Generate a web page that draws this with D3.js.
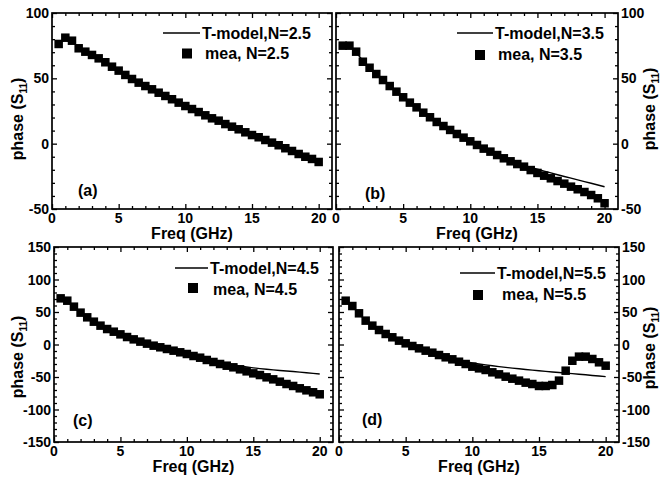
<!DOCTYPE html>
<html>
<head>
<meta charset="utf-8">
<script src="https://cdn.jsdelivr.net/npm/d3@7"></script>
<style>
html,body{margin:0;padding:0;background:#fff;}
svg{display:block;}
text{font-family:"Liberation Sans",Arial,Helvetica,sans-serif;font-weight:bold;fill:#000;}
</style>
</head>
<body>
<svg id="chart" width="660" height="480"></svg>
<script>
const freq = [0.5,1,1.5,2,2.5,3,3.5,4,4.5,5,5.5,6,6.5,7,7.5,8,8.5,9,9.5,10,
  10.5,11,11.5,12,12.5,13,13.5,14,14.5,15,15.5,16,16.5,17,17.5,18,18.5,19,19.5,20];
const xTicks = [0,5,10,15,20];
const yTicksAB = [-50,0,50,100];
const yTicksCD = [-150,-100,-50,0,50,100,150];

const meaA = [76.3,81.1,78.8,73,70.4,67.9,65.3,62.3,58.9,55.9,52.6,49.5,46.7,44.1,41.6,39,36.5,34,31.4,28.8,
  26.5,24.2,21.7,19.4,17.6,15,13,11,8.7,6.6,4.9,2.8,0.8,-1.2,-3.5,-5.6,-7.9,-10,-11.7,-14];
const modelA = [77,79.5,77.5,74.5,71,68,65,62,59,56,53,50,47,44.3,41.7,39.1,36.6,34.1,31.6,29.1,
  26.7,24.3,22,19.8,17.6,15.4,13.3,11.2,9.1,7,5,3,1,-1,-3.1,-5.2,-7.3,-9.4,-11.5,-13.5];

const meaB = [75,75,70.4,62.7,58.1,53.3,48.7,44.1,39.8,35.5,31.4,27.8,23.7,20.2,16.6,13.5,10.5,7.4,4.6,1.8,
  -1,-3.8,-6.1,-8.7,-11.2,-13.5,-15.6,-17.6,-20.2,-22.4,-24.5,-26.5,-28.6,-30.6,-32.9,-34.9,-37,-39.3,-41.8,-45.6];
const modelB = [75,74.5,70,63.5,58.5,53.6,48.9,44.3,40,35.8,31.8,28,24.2,20.6,17.1,13.8,10.7,7.7,4.8,2,
  -0.8,-3.5,-6.1,-8.6,-11.1,-13.4,-15,-16.6,-18.1,-19.6,-21,-22.4,-23.8,-25.1,-26.4,-27.7,-29,-30.3,-31.6,-33];

const meaC = [71,67.4,58.2,49,41.8,35.1,29,23.8,19.7,15.6,11.5,7.9,4.4,1.3,-1.8,-4.3,-6.9,-9.5,-12,-14.6,
  -17.7,-20.3,-23.8,-26.9,-30,-32.6,-35.1,-38.2,-41.3,-44.4,-47,-50.5,-53.6,-57.2,-60.8,-63.8,-67.4,-70.5,-73.5,-76.6];
const modelC = [71.5,66.5,58.5,49.5,42,35.3,29.2,24,19.6,15.5,11.6,8,4.6,1.4,-1.6,-4.3,-6.9,-9.4,-11.9,-14.4,
  -16.9,-19.8,-22.4,-24.9,-27.2,-29.4,-31.3,-33,-34.5,-35.9,-37.1,-38.1,-39,-39.9,-40.8,-41.6,-42.5,-43.4,-44.4,-45.4];

const meaD = [67.4,59.2,48,36.7,29,22.3,16.2,11.1,5.9,1.8,-2.3,-5.9,-9.5,-12.6,-16.2,-19.7,-22.8,-26.5,-30,-34.1,
  -36.7,-39.2,-42.8,-45.9,-49.5,-52.6,-55.6,-58.7,-60.8,-63.8,-63.8,-62.3,-55.6,-40.3,-25,-18.7,-18.7,-22.3,-27.4,-32.6];
const modelD = [68,58.5,47.5,37,29,22.3,16.3,11.1,6.2,1.8,-2.2,-5.8,-9.2,-12.4,-15.4,-18.3,-21,-24.5,-26.4,-28.2,
  -29.8,-31.3,-32.7,-34,-35.2,-36.3,-37.4,-38.4,-39.4,-40.4,-41.3,-42.2,-43.1,-44,-44.8,-45.7,-46.6,-47.6,-48.5,-49.5];

const legendModel = ["T-model,N=2.5","T-model,N=3.5","T-model,N=4.5","T-model,N=5.5"];
const legendMea = ["mea, N=2.5","mea, N=3.5","mea, N=4.5","mea, N=5.5"];
const tags = ["(a)","(b)","(c)","(d)"];

const panels = [
  {l:52, t:13, r:332, b:209, yd:[-50,100], yt:yTicksAB, side:"left", mea:meaA, model:modelA,
   lg:{x1:163,x2:200,ly:33,tx:202,ty:38.5,sx:187,sy:53.5,t2x:205,t2y:59}, tag:{x:78,y:196}, yl:{x:23,y:119}},
  {l:336, t:13, r:618, b:209, yd:[-50,100], yt:yTicksAB, side:"right", mea:meaB, model:modelB,
   lg:{x1:457,x2:493,ly:33,tx:495,ty:38.5,sx:480,sy:55,t2x:498,t2y:60}, tag:{x:365,y:199}, yl:{x:655,y:109}},
  {l:54, t:247, r:333, b:442, yd:[-150,150], yt:yTicksCD, side:"left", mea:meaC, model:modelC,
   lg:{x1:175,x2:208,ly:268,tx:210,ty:273.5,sx:193,sy:288,t2x:213,t2y:295}, tag:{x:73,y:426}, yl:{x:23,y:357}},
  {l:339, t:247, r:619, b:442, yd:[-150,150], yt:yTicksCD, side:"right", mea:meaD, model:modelD,
   lg:{x1:460,x2:495,ly:273,tx:497,ty:278.5,sx:478,sy:295,t2x:502,t2y:300}, tag:{x:362,y:425}, yl:{x:655,y:348}}
];

const svg = d3.select("#chart");

panels.forEach((p, i) => {
  const x = d3.scaleLinear().domain([0,21]).range([p.l, p.r]);
  const y = d3.scaleLinear().domain(p.yd).range([p.b, p.t]);
  const g = svg.append("g");

  const maj = 5, mnr = 3;
  const xMinor = d3.range(0, 21, 1).filter(v => v % 5 !== 0);
  const yMinor = d3.range(p.yd[0], p.yd[1] + 1, 10).filter(v => v % 50 !== 0);

  const axB = d3.axisBottom(x).tickValues(xTicks).tickSize(-maj).tickFormat("");
  const axBm = d3.axisBottom(x).tickValues(xMinor).tickSize(-mnr).tickFormat("");
  const axT = d3.axisTop(x).tickValues(xTicks).tickSize(-maj).tickFormat("");
  const axTm = d3.axisTop(x).tickValues(xMinor).tickSize(-mnr).tickFormat("");
  const axL = d3.axisLeft(y).tickValues(p.yt).tickSize(-maj).tickFormat("");
  const axLm = d3.axisLeft(y).tickValues(yMinor).tickSize(-mnr).tickFormat("");
  const axR = d3.axisRight(y).tickValues(p.yt).tickSize(-maj).tickFormat("");
  const axRm = d3.axisRight(y).tickValues(yMinor).tickSize(-mnr).tickFormat("");

  [[axB,`translate(0,${p.b})`],[axBm,`translate(0,${p.b})`],
   [axT,`translate(0,${p.t})`],[axTm,`translate(0,${p.t})`],
   [axL,`translate(${p.l},0)`],[axLm,`translate(${p.l},0)`],
   [axR,`translate(${p.r},0)`],[axRm,`translate(${p.r},0)`]].forEach(([ax,tr]) => {
    const a = g.append("g").attr("transform", tr).call(ax);
    a.select(".domain").remove();
    a.selectAll("line").attr("stroke","#000").attr("stroke-width",1.3);
  });

  g.append("rect").attr("x",p.l).attr("y",p.t).attr("width",p.r-p.l).attr("height",p.b-p.t)
    .attr("fill","none").attr("stroke","#000").attr("stroke-width",1.7);

  // x tick labels
  g.selectAll(".xl").data(xTicks).enter().append("text")
    .attr("x", d => x(d)).attr("y", p.b + 13.5).attr("text-anchor","middle")
    .attr("font-size",14).text(d => d);
  // y tick labels
  g.selectAll(".yl").data(p.yt).enter().append("text")
    .attr("x", p.side === "left" ? p.l - 3 : p.r + 3)
    .attr("y", d => y(d)).attr("dy","0.36em")
    .attr("text-anchor", p.side === "left" ? "end" : "start")
    .attr("font-size",14).text(d => d);

  // axis titles
  g.append("text").attr("x",(p.l+p.r)/2).attr("y",p.b+30).attr("text-anchor","middle")
    .attr("font-size",16).text("Freq (GHz)");
  const yt = g.append("text").attr("transform",`translate(${p.yl.x},${p.yl.y}) rotate(-90)`)
    .attr("text-anchor","middle").attr("font-size",16);
  yt.append("tspan").text("phase (S");
  yt.append("tspan").attr("font-size",10).attr("dy",4).text("11");
  yt.append("tspan").attr("dy",-4).text(")");

  // model line
  const line = d3.line().x((d,j) => x(freq[j])).y(d => y(d));
  g.append("path").datum(p.model).attr("d", line).attr("fill","none")
    .attr("stroke","#000").attr("stroke-width",1.4);

  // markers
  const s = 8.5;
  g.selectAll(".m").data(p.mea).enter().append("rect")
    .attr("x", (d,j) => x(freq[j]) - s/2).attr("y", d => y(d) - s/2)
    .attr("width", s).attr("height", s).attr("fill","#000");

  // legend
  const L = p.lg;
  g.append("line").attr("x1",L.x1).attr("x2",L.x2).attr("y1",L.ly).attr("y2",L.ly)
    .attr("stroke","#000").attr("stroke-width",1.4);
  g.append("text").attr("x",L.tx).attr("y",L.ty).attr("font-size",16).text(legendModel[i]);
  g.append("rect").attr("x",L.sx-5).attr("y",L.sy-5).attr("width",10).attr("height",10).attr("fill","#000");
  g.append("text").attr("x",L.t2x).attr("y",L.t2y).attr("font-size",16).text(legendMea[i]);

  g.append("text").attr("x",p.tag.x).attr("y",p.tag.y).attr("font-size",16).text(tags[i]);
});
</script>
</body>
</html>
